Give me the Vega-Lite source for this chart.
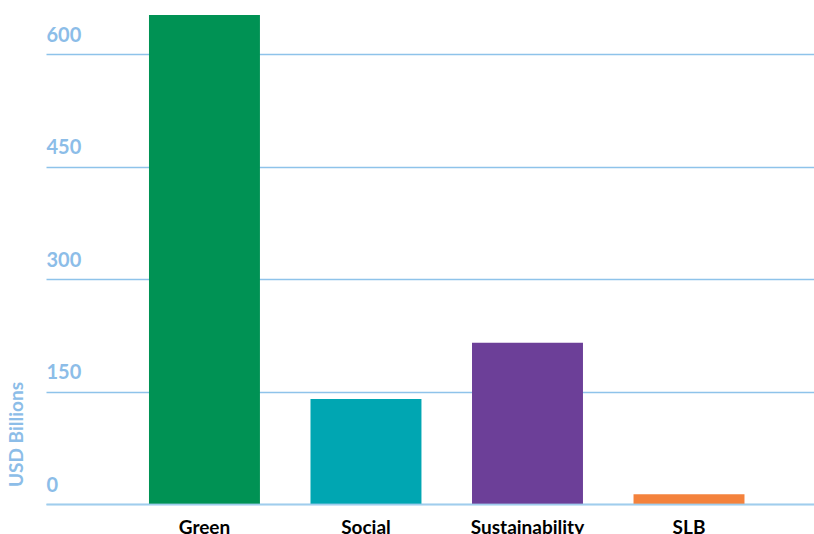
{
  "$schema": "https://vega.github.io/schema/vega-lite/v6.json",
  "width": 768,
  "height": 504,
  "autosize": "none",
  "padding": {"left": 46, "top": 0, "right": 0, "bottom": 30},
  "background": "white",
  "config": {"view": {"stroke": null}},
  "data": {
    "values": [
      {"category": "Green", "value": 652},
      {"category": "Social", "value": 140},
      {"category": "Sustainability", "value": 215},
      {"category": "SLB", "value": 13}
    ]
  },
  "mark": {"type": "bar"},
  "encoding": {
    "x": {
      "field": "category",
      "type": "nominal",
      "sort": null,
      "scale": {"paddingInner": 0.313, "paddingOuter": 0.534, "align": 0.597},
      "axis": {
        "title": null,
        "labelAngle": 0,
        "labelFont": "Lato",
        "labelFontWeight": "bold",
        "labelFontSize": 19,
        "labelColor": "#000000",
        "labelPadding": 14,
        "ticks": false,
        "domain": true,
        "domainColor": "#a6d0ee",
        "domainOpacity": 0.75,
        "domainWidth": 2,
        "zindex": 1
      }
    },
    "y": {
      "field": "value",
      "type": "quantitative",
      "scale": {"domain": [0, 672], "nice": false},
      "axis": {
        "title": "USD Billions",
        "titleFont": "Lato",
        "titleFontWeight": "bold",
        "titleFontSize": 19,
        "titleColor": "#8cbde8",
        "titleAngle": 270,
        "titleX": -30,
        "titleY": 434,
        "titleAlign": "center",
        "titleBaseline": "middle",
        "values": [0, 150, 300, 450, 600],
        "labelFont": "Lato",
        "labelFontWeight": "bold",
        "labelFontSize": 20,
        "labelColor": "#8cbde8",
        "labelAlign": "left",
        "labelBaseline": "alphabetic",
        "labelOffset": -13,
        "labelPadding": 0,
        "ticks": false,
        "tickSize": 0,
        "domain": false,
        "grid": true,
        "gridColor": "#8ec3ea",
        "gridWidth": 1.3,
        "zindex": 0
      }
    },
    "color": {
      "field": "category",
      "type": "nominal",
      "scale": {
        "domain": ["Green", "Social", "Sustainability", "SLB"],
        "range": ["#009254", "#00a6b2", "#6c3f98", "#f4823c"]
      },
      "legend": null
    }
  }
}
